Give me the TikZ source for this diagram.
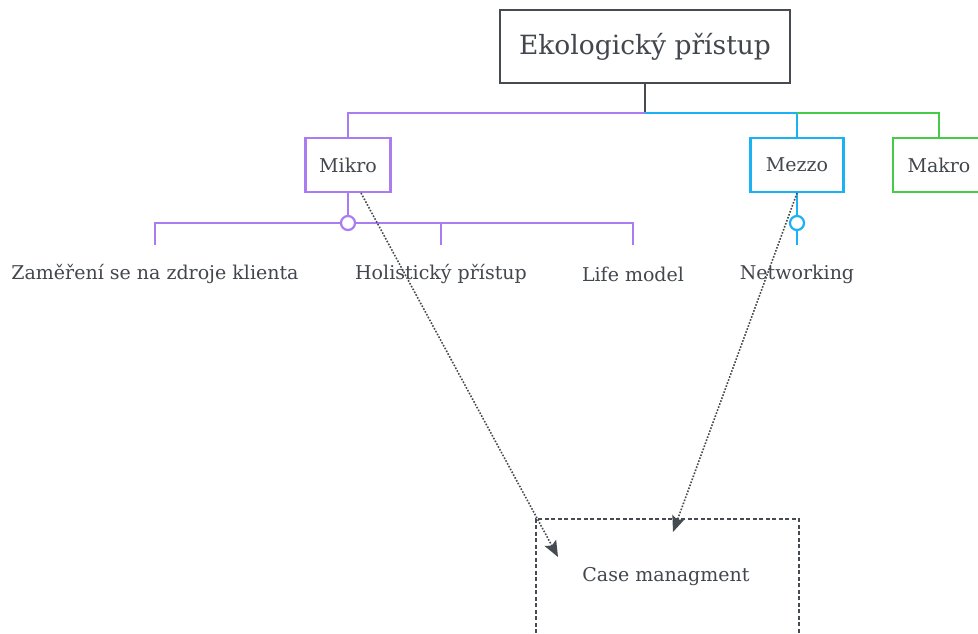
\documentclass[tikz,border=0pt]{standalone}
\usepackage{fontspec}
\setmainfont{DejaVu Serif}
\usetikzlibrary{arrows.meta}
\definecolor{ink}{HTML}{464B51}
\definecolor{txt}{HTML}{42474E}
\definecolor{purp}{HTML}{A97CF2}
\definecolor{blu}{HTML}{1AB2F5}
\definecolor{grn}{HTML}{45CB45}
\tikzset{
  box/.style={draw, line width=2.2pt, fill=white, inner sep=0pt, text=txt},
  lbl/.style={inner sep=0pt, text=txt, font=\fontsize{19}{22}\selectfont},
  conn/.style={line width=2.2pt},
  knob/.style={circle, draw, line width=2.2pt, fill=white, minimum size=14pt, inner sep=0pt},
  dotarrow/.style={ink, line width=1.6pt, dash pattern=on 1.6pt off 1.6pt, -{Stealth[length=16pt,width=13pt,inset=3pt]}},
}
\begin{document}
\begin{tikzpicture}[x=1pt,y=-1pt]
\useasboundingbox (0,0) rectangle (978,634);
\clip (0,0) rectangle (978,634);
\fill[white] (0,0) rectangle (978,634);

% top
\node[box, draw=ink, minimum width=290pt, minimum height=73pt, font=\fontsize{26.5}{30}\selectfont] (eko) at (645,46.5) {Ekologický přístup};
\coordinate (j) at (645,113);

% level boxes
\node[box, draw=purp, minimum width=85pt, minimum height=54pt, font=\fontsize{19}{22}\selectfont] (mikro) at (348,165) {Mikro};
\node[box, draw=blu, minimum width=93pt, minimum height=54pt, font=\fontsize{19}{22}\selectfont] (mezzo) at (797,165) {Mezzo};
\node[box, draw=grn, minimum width=92pt, minimum height=54pt, font=\fontsize{19}{22}\selectfont] (makro) at (939,165) {Makro};

\draw[conn, ink] (eko.south) -- (j);
\draw[conn, purp] (j) -- (mikro.north |- j) -- (mikro.north);
\draw[conn, blu] (j) -- (mezzo.north |- j) -- (mezzo.north);
\draw[conn, grn] (mezzo.north |- j) -- (makro.north |- j) -- (makro.north);

% mikro children
\node[knob, draw=purp] (mk) at (348,223) {};
\coordinate (c1) at (155,245);
\coordinate (c2) at (441,245);
\coordinate (c3) at (633,245);
\draw[conn, purp] (mikro.south) -- (mk.north);
\draw[conn, purp] (mk.west) -- (c1 |- mk) -- (c1);
\draw[conn, purp] (mk.east) -- (c3 |- mk) -- (c3);
\draw[conn, purp] (c2 |- mk) -- (c2);
\node[lbl] (t1) at (155,274) {Zaměření se na zdroje klienta};
\node[lbl] (t2) at (441,274) {Holistický přístup};
\node[lbl] (t3) at (633,274) {Life model};

% mezzo child
\node[knob, draw=blu] (mz) at (797,223) {};
\coordinate (c4) at (797,245);
\draw[conn, blu] (mezzo.south) -- (mz.north);
\draw[conn, blu] (mz.south) -- (c4);
\node[lbl] (t4) at (797,274) {Networking};

% case management
\node[box, draw=ink, line width=1.8pt, dash pattern=on 4pt off 2.5pt, minimum width=263pt, minimum height=124pt, anchor=north west, fill=none] (cm) at (535,518) {};
\node[lbl] (cmt) at (666,577) {Case managment};

\coordinate (a1s) at (361,193);
\coordinate (a1e) at (558,557);
\coordinate (a2s) at (797,193);
\coordinate (a2e) at (673,532);
\draw[dotarrow] (a1s) -- (a1e);
\draw[dotarrow] (a2s) -- (a2e);
\end{tikzpicture}
\end{document}
